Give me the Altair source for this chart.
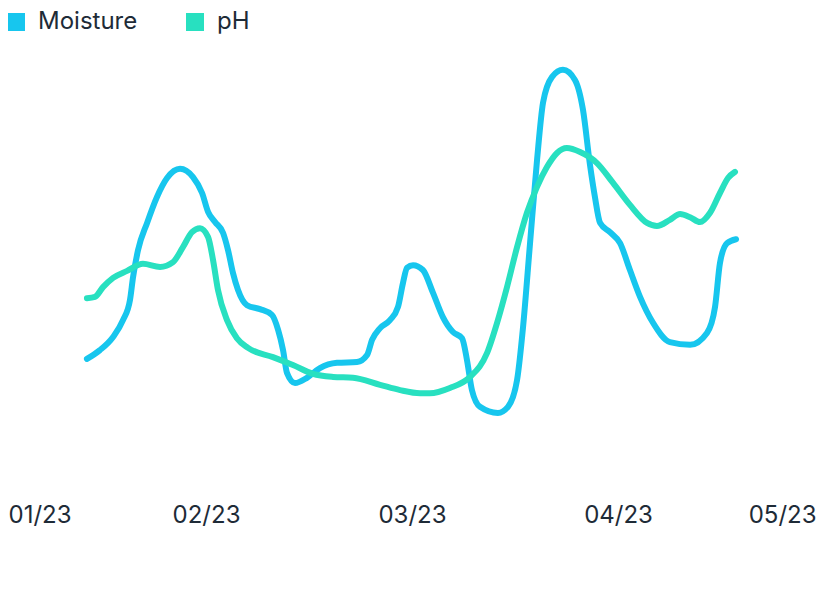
import altair as alt
import pandas as pd

# x positions in months since 01/23 (0 = 01/23, 4 = 05/23)
moisture_x = [0.422, 0.485, 0.549, 0.597, 0.631, 0.646, 0.670, 0.714, 0.762, 0.811,
              0.874, 0.937, 0.981, 1.010, 1.044, 1.083, 1.107, 1.131, 1.155, 1.199,
              1.262, 1.320, 1.350, 1.374, 1.393, 1.432, 1.490, 1.553, 1.636, 1.733,
              1.782, 1.806, 1.845, 1.893, 1.932, 1.956, 1.976, 2.005, 2.053, 2.102,
              2.150, 2.199, 2.243, 2.267, 2.291, 2.330, 2.417, 2.466, 2.510, 2.539,
              2.573, 2.607, 2.636, 2.680, 2.733, 2.791, 2.830, 2.864, 2.888, 2.913,
              2.961, 3.010, 3.058, 3.107, 3.170, 3.252, 3.350, 3.432, 3.471, 3.495,
              3.529, 3.573]
moisture_y = [29.8, 31.8, 34.8, 38.6, 43.2, 48.4, 54.5, 60.7, 66.6, 70.9,
              73.0, 71.1, 67.5, 63.2, 60.9, 58.4, 54.5, 49.3, 45.5, 42.0,
              41.1, 39.8, 36.4, 31.8, 26.6, 24.3, 25.5, 27.7, 28.9, 29.1,
              30.7, 34.1, 36.8, 38.6, 41.6, 47.0, 50.5, 51.1, 50.0, 44.8,
              39.3, 35.9, 34.5, 29.5, 22.7, 18.9, 17.5, 18.9, 25.0, 37.0,
              56.1, 75.0, 88.0, 93.9, 95.5, 93.2, 86.4, 73.9, 66.6, 60.7,
              58.6, 56.1, 50.0, 43.9, 38.0, 33.6, 33.0, 35.7, 41.6, 51.6,
              56.1, 57.0]

ph_x = [0.422, 0.461, 0.500, 0.549, 0.617, 0.694, 0.777, 0.840, 0.888, 0.932,
        0.971, 1.010, 1.034, 1.058, 1.102, 1.150, 1.204, 1.325, 1.422, 1.519,
        1.617, 1.714, 1.845, 1.942, 2.039, 2.087, 2.184, 2.282, 2.364, 2.413,
        2.461, 2.510, 2.558, 2.607, 2.655, 2.704, 2.752, 2.816, 2.898, 2.976,
        3.058, 3.141, 3.189, 3.252, 3.301, 3.350, 3.398, 3.447, 3.495, 3.534,
        3.568]
ph_y = [43.6, 43.9, 46.1, 48.2, 49.8, 51.4, 50.7, 51.8, 55.2, 58.6,
        59.5, 57.5, 52.3, 45.5, 38.6, 34.5, 32.3, 30.2, 28.4, 26.4,
        25.7, 25.5, 23.9, 22.7, 22.0, 22.0, 23.2, 25.7, 31.1, 38.0,
        46.1, 55.2, 63.0, 68.9, 73.4, 76.6, 77.7, 76.8, 74.3, 69.8,
        64.8, 60.7, 60.0, 61.4, 62.7, 62.0, 60.9, 63.0, 67.5, 70.9,
        72.3]

series_names = ["Moisture", "pH"]
series_colors = ["#17c6ee", "#28e0c0"]
tick_labels = ["01/23", "02/23", "03/23", "04/23", "05/23"]

rows = []
for x, y in zip(moisture_x, moisture_y):
    rows.append({"month": x, "value": y, "series": "Moisture"})
for x, y in zip(ph_x, ph_y):
    rows.append({"month": x, "value": y, "series": "pH"})
df = pd.DataFrame(rows)

# the page has an 8px margin; trim the domain ends so months 1-3 land where the reference puts them
PLOT_W = 808
MONTH_PX = 206.0
x_lo = 8 / MONTH_PX
x_hi = x_lo + PLOT_W / MONTH_PX

label_expr = "[" + ",".join("'" + t + "'" for t in tick_labels) + "][round(datum.value)]"

text_color = "#1e2b37"

x_enc = alt.X(
    "month:Q",
    scale=alt.Scale(domain=[x_lo, x_hi], nice=False),
    axis=alt.Axis(
        values=[x_lo, 1, 2, 3, x_hi],
        labelExpr=label_expr,
        labelFlush=True,
        grid=False,
        domain=False,
        ticks=False,
        title=None,
        labelFont="Inter",
        labelFontSize=24,
        labelColor=text_color,
        labelPadding=13,
    ),
)
y_enc = alt.Y("value:Q", scale=alt.Scale(domain=[0, 100], nice=False, zero=False), axis=None)
color_scale = alt.Scale(domain=series_names, range=series_colors)

legend = alt.Legend(
    title=None,
    orient="none",
    legendX=-4,
    legendY=-40,
    direction="horizontal",
    symbolType="square",
    symbolSize=324,
    symbolStrokeWidth=0,
    symbolOpacity=1,
    labelFont="Inter",
    labelFontSize=24,
    labelColor=text_color,
    labelOffset=10,
    columnPadding=45,
    padding=0,
)

base = alt.Chart(df)

legend_layer = base.mark_square(size=1, filled=True, opacity=0).encode(
    x=x_enc,
    y=y_enc,
    color=alt.Color("series:N", scale=color_scale, legend=legend),
)

lines = base.mark_line(interpolate="monotone", strokeWidth=6, strokeCap="round").encode(
    x=x_enc,
    y=y_enc,
    color=alt.Color("series:N", scale=color_scale, legend=legend),
)

chart = (
    alt.layer(legend_layer, lines)
    .properties(
        width=PLOT_W,
        height=440,
        autosize=alt.AutoSizeParams(type="none"),
        padding={"left": 0, "top": 42, "right": 0, "bottom": 60},
    )
    .configure(background="white")
    .configure_view(stroke=None, strokeWidth=0)
)

chart.save("out.html", embed_options={"renderer": "svg", "actions": False})
